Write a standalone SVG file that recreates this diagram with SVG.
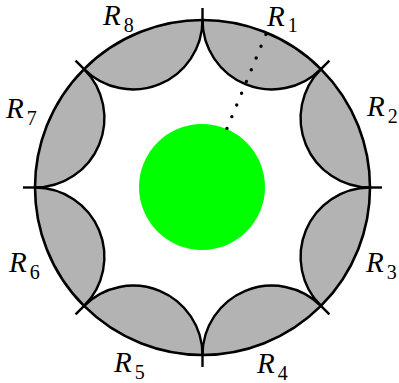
<svg xmlns="http://www.w3.org/2000/svg" width="399" height="383" viewBox="0 0 399 383">
<style>
.reg{fill:#b3b3b3;stroke:none}
.arc{fill:none;stroke:#000;stroke-width:2.4}
.tick{stroke:#000;stroke-width:2.4;fill:none}
.lbl{font-family:"Liberation Serif","DejaVu Serif",serif;font-style:italic;font-size:29px;fill:#000}
.sub{font-style:normal;font-size:20px}
</style>
<rect width="399" height="383" fill="#fff"/>
<g id="R1"><path class="reg" d="M202.5 20 A167.5 167.5 0 0 1 320.94 69.06 A69.38 69.38 0 0 1 202.5 20 Z"/><path class="arc" d="M320.94 69.06 A69.38 69.38 0 0 1 202.5 20"/><text class="lbl" x="267" y="25.5">R<tspan class="sub" dx="3" dy="6.5">1</tspan></text></g>
<g id="R2"><path class="reg" d="M320.94 69.06 A167.5 167.5 0 0 1 370 187.5 A69.38 69.38 0 0 1 320.94 69.06 Z"/><path class="arc" d="M370 187.5 A69.38 69.38 0 0 1 320.94 69.06"/><text class="lbl" x="367" y="116">R<tspan class="sub" dx="3" dy="6.5">2</tspan></text></g>
<g id="R3"><path class="reg" d="M370 187.5 A167.5 167.5 0 0 1 320.94 305.94 A69.38 69.38 0 0 1 370 187.5 Z"/><path class="arc" d="M320.94 305.94 A69.38 69.38 0 0 1 370 187.5"/><text class="lbl" x="366" y="272">R<tspan class="sub" dx="3" dy="6.5">3</tspan></text></g>
<g id="R4"><path class="reg" d="M320.94 305.94 A167.5 167.5 0 0 1 202.5 355 A69.38 69.38 0 0 1 320.94 305.94 Z"/><path class="arc" d="M202.5 355 A69.38 69.38 0 0 1 320.94 305.94"/><text class="lbl" x="257" y="373">R<tspan class="sub" dx="3" dy="6.5">4</tspan></text></g>
<g id="R5"><path class="reg" d="M202.5 355 A167.5 167.5 0 0 1 84.06 305.94 A69.38 69.38 0 0 1 202.5 355 Z"/><path class="arc" d="M84.06 305.94 A69.38 69.38 0 0 1 202.5 355"/><text class="lbl" x="114" y="372">R<tspan class="sub" dx="3" dy="6.5">5</tspan></text></g>
<g id="R6"><path class="reg" d="M84.06 305.94 A167.5 167.5 0 0 1 35 187.5 A69.38 69.38 0 0 1 84.06 305.94 Z"/><path class="arc" d="M35 187.5 A69.38 69.38 0 0 1 84.06 305.94"/><text class="lbl" x="9" y="272">R<tspan class="sub" dx="3" dy="6.5">6</tspan></text></g>
<g id="R7"><path class="reg" d="M35 187.5 A167.5 167.5 0 0 1 84.06 69.06 A69.38 69.38 0 0 1 35 187.5 Z"/><path class="arc" d="M84.06 69.06 A69.38 69.38 0 0 1 35 187.5"/><text class="lbl" x="6" y="118">R<tspan class="sub" dx="3" dy="6.5">7</tspan></text></g>
<g id="R8"><path class="reg" d="M84.06 69.06 A167.5 167.5 0 0 1 202.5 20 A69.38 69.38 0 0 1 84.06 69.06 Z"/><path class="arc" d="M202.5 20 A69.38 69.38 0 0 1 84.06 69.06"/><text class="lbl" x="103" y="25">R<tspan class="sub" dx="3" dy="6.5">8</tspan></text></g>
<g id="boundary"><circle cx="202.5" cy="187.5" r="167.5" fill="none" stroke="#000" stroke-width="2.6"/></g>
<g id="ticks">
<line class="tick" x1="202.5" y1="8" x2="202.5" y2="32"/>
<line class="tick" x1="312.45" y1="77.55" x2="329.43" y2="60.57"/>
<line class="tick" x1="358" y1="187.5" x2="382" y2="187.5"/>
<line class="tick" x1="312.45" y1="297.45" x2="329.43" y2="314.43"/>
<line class="tick" x1="202.5" y1="343" x2="202.5" y2="367"/>
<line class="tick" x1="92.55" y1="297.45" x2="75.57" y2="314.43"/>
<line class="tick" x1="47" y1="187.5" x2="23" y2="187.5"/>
<line class="tick" x1="92.55" y1="77.55" x2="75.57" y2="60.57"/>
</g>
<g id="core"><circle cx="202" cy="187" r="63" fill="#00ff00"/></g>
<g id="connectors"><line x1="227" y1="128.4" x2="266" y2="34.2" stroke="#000" stroke-width="3.4" stroke-linecap="round" stroke-dasharray="0 12.7"/></g>
</svg>
